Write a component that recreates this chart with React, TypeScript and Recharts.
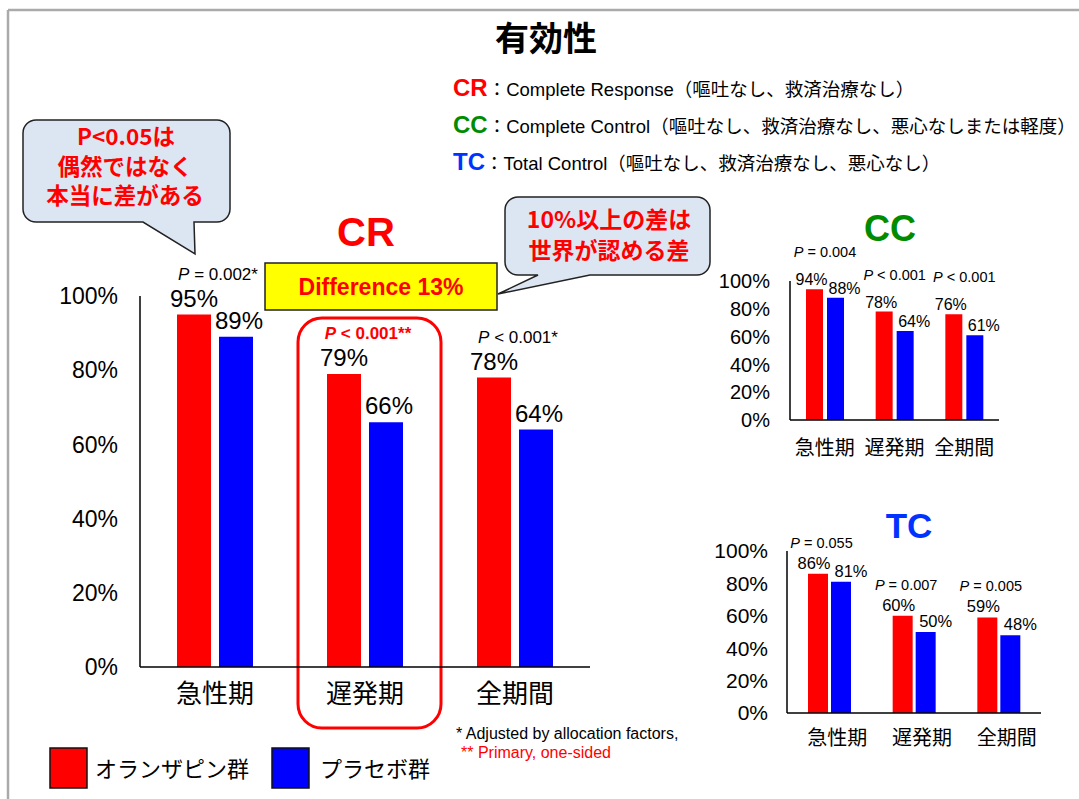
import React from 'react';
import { BarChart, Bar, XAxis, YAxis, LabelList } from 'recharts';

const FONT = "'Liberation Sans', Arial, 'Noto Sans CJK JP', sans-serif";
const JP = "'Noto Sans CJK JP', 'Liberation Sans', sans-serif";
const RED = '#ff0000';
const BLUE = '#0000ff';
const GREEN = '#008c00';
const TC_BLUE = '#0033ff';

const periods = ['急性期', '遅発期', '全期間'];
const yTicks = [0, 20, 40, 60, 80, 100];

const crOlanzapine = [95, 79, 78];
const crPlacebo = [89, 66, 64];
const crPValues = ['P = 0.002*', 'P < 0.001**', 'P < 0.001*'];

const ccOlanzapine = [94, 78, 76];
const ccPlacebo = [88, 64, 61];
const ccPValues = ['P = 0.004', 'P < 0.001', 'P < 0.001'];

const tcOlanzapine = [86, 60, 59];
const tcPlacebo = [81, 50, 48];
const tcPValues = ['P = 0.055', 'P = 0.007', 'P = 0.005'];

interface PanelProps {
  left: number;
  top: number;
  width: number;
  height: number;
  margin: { top: number; right: number; bottom: number; left: number };
  olanzapine: number[];
  placebo: number[];
  pValues: string[];
  highlight?: number;
  barSize: number;
  barGap: number;
  tickFont: number;
  catFont: number;
  valueFont: number;
  pFont: number;
  valueOffset: number;
  pOffset: number;
  pDx: number;
  redDx: number;
  blueDx: number;
  yTickMargin: number;
  xTickMargin: number;
  xDx: number;
}

const Panel = (p: PanelProps) => {
  const data = periods.map((name, i) => ({
    name,
    olanzapine: p.olanzapine[i],
    placebo: p.placebo[i],
  }));

  const valueLabel = (dx: number) => (props: any) => {
    const { x, y, width, value } = props;
    return (
      <text
        x={Number(x) + Number(width) / 2 + dx}
        y={Number(y) - p.valueOffset}
        textAnchor="middle"
        fontSize={p.valueFont}
        fontFamily={FONT}
        fill="#000"
      >
        {value}%
      </text>
    );
  };

  // p-value text sits above each category, italic P
  const pLabel = (props: any) => {
    const { x, y, width, index } = props;
    const txt = p.pValues[index];
    const hi = index === p.highlight;
    return (
      <text
        x={Number(x) + Number(width) + p.barGap / 2 + p.pDx}
        y={Number(y) - p.pOffset}
        textAnchor="middle"
        fontSize={p.pFont}
        fontFamily={FONT}
        fill={hi ? RED : '#000'}
        fontWeight={hi ? 'bold' : 'normal'}
      >
        <tspan fontStyle="italic">P</tspan>
        {txt.slice(1)}
      </text>
    );
  };

  const catTick = (props: any) => {
    const { x, y, payload } = props;
    return (
      <text
        x={Number(x) + p.xDx}
        y={Number(y) + p.catFont * 0.71}
        textAnchor="middle"
        fontSize={p.catFont}
        fontFamily={JP}
        fill="#000"
      >
        {payload.value}
      </text>
    );
  };

  return (
    <div style={{ position: 'absolute', left: p.left, top: p.top }}>
      <BarChart
        width={p.width}
        height={p.height}
        data={data}
        margin={p.margin}
        barSize={p.barSize}
        barGap={p.barGap}
      >
        <XAxis
          dataKey="name"
          height={40}
          tickLine={false}
          tickSize={6}
          tickMargin={p.xTickMargin}
          axisLine={{ stroke: '#000', strokeWidth: 1.5 }}
          tick={catTick}
          interval={0}
        />
        <YAxis
          width={60}
          domain={[0, 100]}
          ticks={yTicks}
          interval={0}
          tickLine={false}
          tickSize={6}
          tickMargin={p.yTickMargin}
          axisLine={{ stroke: '#000', strokeWidth: 1.5 }}
          tickFormatter={(v: number) => `${v}%`}
          tick={{ fontSize: p.tickFont, fill: '#000', fontFamily: FONT }}
        />
        <Bar dataKey="olanzapine" fill={RED} isAnimationActive={false}>
          <LabelList dataKey="olanzapine" content={valueLabel(p.redDx)} />
          <LabelList dataKey="olanzapine" content={pLabel} />
        </Bar>
        <Bar dataKey="placebo" fill={BLUE} isAnimationActive={false}>
          <LabelList dataKey="placebo" content={valueLabel(p.blueDx)} />
        </Bar>
      </BarChart>
    </div>
  );
};

const r = 13;
const callout1 = `M ${23 + r},120 H ${230 - r} A ${r} ${r} 0 0 1 230,${120 + r} V ${222 - r} A ${r} ${r} 0 0 1 ${230 - r},222 H 194 L 195,254 L 143,222 H ${23 + r} A ${r} ${r} 0 0 1 23,${222 - r} V ${120 + r} A ${r} ${r} 0 0 1 ${23 + r},120 Z`;
const callout2 = `M ${505 + r},197 H ${710 - r} A ${r} ${r} 0 0 1 710,${197 + r} V ${275 - r} A ${r} ${r} 0 0 1 ${710 - r},275 H 590 L 498,294 L 538,275 H ${505 + r} A ${r} ${r} 0 0 1 505,${275 - r} V ${197 + r} A ${r} ${r} 0 0 1 ${505 + r},197 Z`;

export default function App() {
  return (
    <div
      style={{
        position: 'absolute',
        left: 0,
        top: 0,
        width: 1079,
        height: 799,
        overflow: 'hidden',
        background: '#fff',
        fontFamily: FONT,
      }}
    >
      <svg width={1079} height={799} style={{ position: 'absolute', left: 0, top: 0 }}>
        {/* slide frame */}
        <line x1={8} y1={10} x2={1079} y2={10} stroke="#aaa" strokeWidth={2.5} />
        <line x1={8} y1={10} x2={8} y2={799} stroke="#aaa" strokeWidth={2.5} />

        <text x={546} y={51} textAnchor="middle" fontSize={34} fontWeight="bold" fontFamily={JP} fill="#000">
          有効性
        </text>

        {/* definitions */}
        <text x={453} y={96} fontFamily={FONT} fill="#000">
          <tspan fontSize={24} fontWeight="bold" fill={RED}>CR</tspan>
          <tspan fontSize={18.5} fontFamily={JP}>：</tspan>
          <tspan fontSize={18.5}>Complete Response（嘔吐なし、救済治療なし）</tspan>
        </text>
        <text x={453} y={133} fontFamily={FONT} fill="#000">
          <tspan fontSize={24} fontWeight="bold" fill={GREEN}>CC</tspan>
          <tspan fontSize={18.5} fontFamily={JP}>：</tspan>
          <tspan fontSize={18.5}>Complete Control（嘔吐なし、救済治療なし、悪心なしまたは軽度）</tspan>
        </text>
        <text x={453} y={170} fontFamily={FONT} fill="#000">
          <tspan fontSize={24} fontWeight="bold" fill={TC_BLUE}>TC</tspan>
          <tspan fontSize={18.5} fontFamily={JP}>：</tspan>
          <tspan fontSize={18.5}>Total Control（嘔吐なし、救済治療なし、悪心なし）</tspan>
        </text>

        {/* callout: significance */}
        <path d={callout1} fill="#dce6f2" stroke="#222" strokeWidth={1.5} />
        <g fontFamily={JP} fontWeight="bold" fill={RED} fontSize={22.5} textAnchor="middle">
          <text x={126} y={145}>P&lt;0.05は</text>
          <text x={125} y={175}>偶然ではなく</text>
          <text x={125} y={204}>本当に差がある</text>
        </g>

        {/* callout: clinically meaningful */}
        <path d={callout2} fill="#dce6f2" stroke="#222" strokeWidth={1.5} />
        <g fontFamily={JP} fontWeight="bold" fill={RED} fontSize={23} textAnchor="middle">
          <text x={609} y={228}>10%以上の差は</text>
          <text x={609} y={259}>世界が認める差</text>
        </g>

        <text x={366} y={246} textAnchor="middle" fontSize={40} fontWeight="bold" fill={RED} fontFamily={FONT}>
          CR
        </text>
        <rect x={265} y={263} width={232} height={47} fill="#ffff00" stroke="#222" strokeWidth={1.5} />
        <text x={381} y={295} textAnchor="middle" fontSize={23} fontWeight="bold" fill={RED} fontFamily={FONT}>
          Difference 13%
        </text>

        <rect x={298} y={318} width={143} height={410} rx={24} ry={24} fill="none" stroke={RED} strokeWidth={3} />

        <text x={890} y={241} textAnchor="middle" fontSize={36} fontWeight="bold" fill={GREEN} fontFamily={FONT}>
          CC
        </text>
        <text x={909} y={538} textAnchor="middle" fontSize={35} fontWeight="bold" fill={TC_BLUE} fontFamily={FONT}>
          TC
        </text>

        {/* footnotes */}
        <text x={456} y={739} fontSize={16} fill="#000" fontFamily={FONT}>
          * Adjusted by allocation factors,
        </text>
        <text x={461} y={758} fontSize={16} fill={RED} fontFamily={FONT}>
          ** Primary, one-sided
        </text>

        {/* legend */}
        <rect x={50} y={748} width={37} height={40} fill={RED} stroke="#111" strokeWidth={1.5} />
        <text x={95} y={777} fontSize={22} fontFamily={JP} fill="#000">
          オランザピン群
        </text>
        <rect x={272} y={748} width={37} height={40} fill={BLUE} stroke="#111" strokeWidth={1.5} />
        <text x={320} y={777} fontSize={22} fontFamily={JP} fill="#000">
          プラセボ群
        </text>
      </svg>

      <Panel
        left={40}
        top={240}
        width={580}
        height={500}
        margin={{ top: 56, right: 30, bottom: 33, left: 40 }}
        olanzapine={crOlanzapine}
        placebo={crPlacebo}
        pValues={crPValues}
        highlight={1}
        barSize={34}
        barGap={8}
        tickFont={23}
        catFont={26}
        valueFont={24}
        pFont={17}
        valueOffset={8}
        pOffset={35}
        pDx={3}
        redDx={0}
        blueDx={3}
        yTickMargin={16}
        xTickMargin={12}
        xDx={0}
      />
      <Panel
        left={700}
        top={230}
        width={320}
        height={240}
        margin={{ top: 51, right: 21, bottom: 10, left: 30 }}
        olanzapine={ccOlanzapine}
        placebo={ccPlacebo}
        pValues={ccPValues}
        barSize={17}
        barGap={4}
        tickFont={20}
        catFont={20}
        valueFont={16}
        pFont={14.5}
        valueOffset={4}
        pOffset={32}
        pDx={0}
        redDx={-3}
        blueDx={9}
        yTickMargin={14}
        xTickMargin={15}
        xDx={0}
      />
      <Panel
        left={700}
        top={520}
        width={370}
        height={270}
        margin={{ top: 31, right: 29, bottom: 37, left: 27 }}
        olanzapine={tcOlanzapine}
        placebo={tcPlacebo}
        pValues={tcPValues}
        barSize={20}
        barGap={3}
        tickFont={21}
        catFont={20}
        valueFont={16.5}
        pFont={14.5}
        valueOffset={5}
        pOffset={26}
        pDx={-8}
        redDx={-4}
        blueDx={10}
        yTickMargin={13}
        xTickMargin={12}
        xDx={8}
      />
    </div>
  );
}
